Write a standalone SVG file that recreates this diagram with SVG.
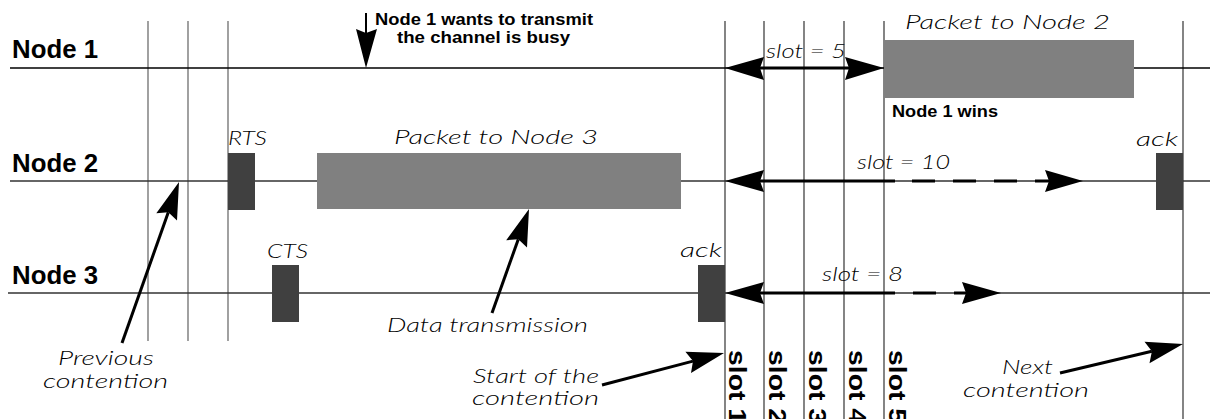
<svg xmlns="http://www.w3.org/2000/svg" width="1210" height="419" viewBox="0 0 1210 419">
<style>
.bg{fill:#fff}
.hl{stroke:#333;stroke-width:1.3;fill:none}
.hl1{stroke:#000;stroke-width:1.3;fill:none}
.vl{stroke:#6e6e6e;stroke-width:1.3;fill:none}
.vs{stroke:#333;stroke-width:1.2;fill:none}
.ctl{fill:#404040}
.pkt{fill:#808080}
.node{font-family:"Liberation Sans",Arial,sans-serif;font-weight:bold;font-size:25px;fill:#000}
.bold{font-family:"Liberation Sans",Arial,sans-serif;font-weight:bold;font-size:17px;fill:#000}
.slot{font-family:"Liberation Sans",Arial,sans-serif;font-weight:bold;font-size:24px;fill:#000}
.it{font-family:Lato,"Open Sans",sans-serif;font-weight:300;font-style:italic;font-size:19px;fill:#000}
.shaft{stroke:#000;stroke-width:3;fill:none}
.dash{stroke:#000;stroke-width:3;fill:none;stroke-dasharray:23 18}
.thin{stroke:#000;stroke-width:2;fill:none}
.head{fill:#000}
</style>
<rect class="bg" x="0" y="0" width="1210" height="419"/>

<g id="grid">
<line class="vl" x1="148" y1="21" x2="148" y2="341"/>
<line class="vl" x1="188" y1="21" x2="188" y2="341"/>
<line class="vl" x1="228" y1="21" x2="228" y2="341"/>
<line class="vs" x1="725" y1="21" x2="725" y2="419"/>
<line class="vs" x1="764" y1="21" x2="764" y2="419"/>
<line class="vs" x1="804" y1="21" x2="804" y2="419"/>
<line class="vs" x1="844" y1="21" x2="844" y2="419"/>
<line class="vs" x1="884" y1="21" x2="884" y2="419"/>
<line class="vs" x1="1183" y1="21" x2="1183" y2="419"/>
</g>

<g id="node1">
<line class="hl1" x1="10" y1="68" x2="1210" y2="68"/>
<text class="node" x="12" y="58" textLength="86" lengthAdjust="spacingAndGlyphs">Node 1</text>
<rect class="pkt" x="884" y="40" width="250" height="58"/>
<text class="it" x="905" y="29" textLength="205" lengthAdjust="spacingAndGlyphs">Packet to Node 2</text>
<text class="bold" x="892" y="117" textLength="106" lengthAdjust="spacingAndGlyphs">Node 1 wins</text>
<text class="bold"><tspan x="375" y="25" textLength="218" lengthAdjust="spacingAndGlyphs">Node 1 wants to transmit</tspan><tspan x="397" y="43" textLength="173" lengthAdjust="spacingAndGlyphs">the channel is busy</tspan></text>
<text class="it" x="766" y="58" textLength="80" lengthAdjust="spacingAndGlyphs">slot = 5</text>
</g>

<g id="node2">
<line class="hl" x1="10" y1="181" x2="1210" y2="181"/>
<text class="node" x="12" y="172" textLength="86" lengthAdjust="spacingAndGlyphs">Node 2</text>
<rect class="ctl" x="228" y="153" width="27" height="57"/>
<text class="it" x="228" y="145" textLength="39" lengthAdjust="spacingAndGlyphs">RTS</text>
<rect class="pkt" x="317" y="153" width="364" height="56"/>
<text class="it" x="394" y="144" textLength="204" lengthAdjust="spacingAndGlyphs">Packet to Node 3</text>
<rect class="ctl" x="1156" y="153" width="27" height="57"/>
<text class="it" x="1136" y="146" textLength="42" lengthAdjust="spacingAndGlyphs">ack</text>
<text class="it" x="857" y="169" textLength="93" lengthAdjust="spacingAndGlyphs">slot = 10</text>
</g>

<g id="node3">
<line class="hl" x1="8" y1="293" x2="1210" y2="293"/>
<text class="node" x="12" y="284" textLength="86" lengthAdjust="spacingAndGlyphs">Node 3</text>
<rect class="ctl" x="272" y="265" width="27" height="57"/>
<text class="it" x="267" y="258" textLength="41" lengthAdjust="spacingAndGlyphs">CTS</text>
<rect class="ctl" x="698" y="265" width="27" height="57"/>
<text class="it" x="680" y="257" textLength="42" lengthAdjust="spacingAndGlyphs">ack</text>
<text class="it" x="822" y="281" textLength="81" lengthAdjust="spacingAndGlyphs">slot = 8</text>
</g>

<g id="slots">
<text class="slot" transform="translate(729,350) rotate(90)" textLength="74" lengthAdjust="spacingAndGlyphs">slot 1</text>
<text class="slot" transform="translate(769,350) rotate(90)" textLength="74" lengthAdjust="spacingAndGlyphs">slot 2</text>
<text class="slot" transform="translate(809,350) rotate(90)" textLength="74" lengthAdjust="spacingAndGlyphs">slot 3</text>
<text class="slot" transform="translate(849,350) rotate(90)" textLength="74" lengthAdjust="spacingAndGlyphs">slot 4</text>
<text class="slot" transform="translate(889,350) rotate(90)" textLength="74" lengthAdjust="spacingAndGlyphs">slot 5</text>
</g>

<g id="labels">
<text class="it"><tspan x="58" y="365" textLength="96" lengthAdjust="spacingAndGlyphs">Previous</tspan><tspan x="43" y="388" textLength="125" lengthAdjust="spacingAndGlyphs">contention</tspan></text>
<text class="it" x="387" y="332" textLength="201" lengthAdjust="spacingAndGlyphs">Data transmission</text>
<text class="it"><tspan x="473" y="383" textLength="126" lengthAdjust="spacingAndGlyphs">Start of the</tspan><tspan x="472" y="405" textLength="127" lengthAdjust="spacingAndGlyphs">contention</tspan></text>
<text class="it"><tspan x="1002" y="374" textLength="51" lengthAdjust="spacingAndGlyphs">Next</tspan><tspan x="963" y="397" textLength="126" lengthAdjust="spacingAndGlyphs">contention</tspan></text>
</g>

<g id="connectors">
<line class="thin" x1="366" y1="13" x2="366" y2="34"/>
<polygon class="head" points="366,68 356,29 366,33 377,29"/>
<line class="shaft" x1="760" y1="68" x2="849" y2="68"/>
<polygon class="head" points="725,68 764,57 760,68 764,80"/>
<polygon class="head" points="884,68 845,57 849,68 845,80"/>
<line class="shaft" x1="760" y1="181" x2="895" y2="181"/>
<path class="dash" d="M912,181 H1050"/>
<polygon class="head" points="725,181 764,170 760,181 764,192"/>
<polygon class="head" points="1083,181 1045,170 1049,181 1045,192"/>
<line class="shaft" x1="760" y1="293" x2="895" y2="293"/>
<path class="dash" d="M913,293 H967"/>
<polygon class="head" points="725,293 764,282 760,293 764,304"/>
<polygon class="head" points="1001,293 962,282 966,293 962,304"/>
<line class="shaft" x1="122" y1="343" x2="168.3" y2="212.2"/>
<polygon class="head" points="179,182 177,220.6 168.3,212.2 156.3,213.2"/>
<line class="shaft" x1="492" y1="313" x2="518.3" y2="239.2"/>
<polygon class="head" points="529,209 527,247.6 518.3,239.2 506.2,240.2"/>
<line class="shaft" x1="602" y1="385" x2="693" y2="361.1"/>
<polygon class="head" points="724,353 691,373 693,361.1 685.4,351.8"/>
<line class="shaft" x1="1060" y1="373" x2="1151.9" y2="351.3"/>
<polygon class="head" points="1183,344 1149.5,363.2 1151.9,351.3 1144.5,341.8"/>
</g>
</svg>
